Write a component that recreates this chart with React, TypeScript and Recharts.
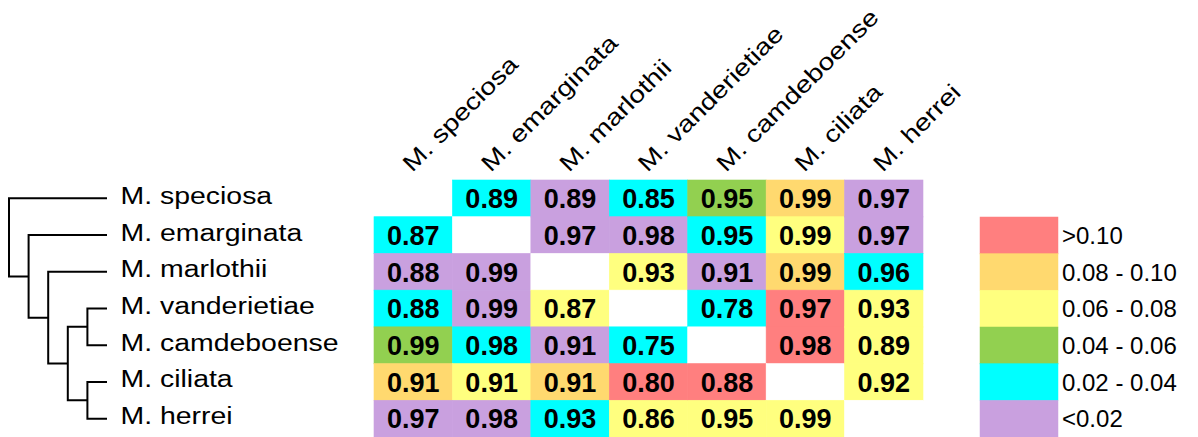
import React from 'react';
import { BarChart, Bar, XAxis, YAxis, ScatterChart, Scatter } from 'recharts';

const species = [
  'M. speciosa',
  'M. emarginata',
  'M. marlothii',
  'M. vanderietiae',
  'M. camdeboense',
  'M. ciliata',
  'M. herrei',
];

const legendLabels = ['>0.10', '0.08 - 0.10', '0.06 - 0.08', '0.04 - 0.06', '0.02 - 0.04', '<0.02'];
const legendColors = ['#FF7F7F', '#FFD96F', '#FFFF7F', '#92D050', '#00FFFF', '#C9A0DF'];

// Cell values per row (null = diagonal)
const speciosaValues = [null, 0.89, 0.89, 0.85, 0.95, 0.99, 0.97];
const emarginataValues = [0.87, null, 0.97, 0.98, 0.95, 0.99, 0.97];
const marlothiiValues = [0.88, 0.99, null, 0.93, 0.91, 0.99, 0.96];
const vanderietiaeValues = [0.88, 0.99, 0.87, null, 0.78, 0.97, 0.93];
const camdeboenseValues = [0.99, 0.98, 0.91, 0.75, null, 0.98, 0.89];
const ciliataValues = [0.91, 0.91, 0.91, 0.8, 0.88, null, 0.92];
const herreiValues = [0.97, 0.98, 0.93, 0.86, 0.95, 0.99, null];

// Cell class per row = index into legendLabels
const speciosaClasses = [null, 4, 5, 4, 3, 1, 5];
const emarginataClasses = [4, null, 5, 5, 4, 2, 5];
const marlothiiClasses = [5, 5, null, 2, 5, 1, 4];
const vanderietiaeClasses = [4, 5, 2, null, 4, 0, 2];
const camdeboenseClasses = [3, 4, 5, 4, null, 0, 2];
const ciliataClasses = [1, 2, 1, 0, 0, null, 2];
const herreiClasses = [5, 5, 4, 2, 2, 2, null];

// Dendrogram merges (in order), with depth of each merge node (0 = root)
const mergeChildren = [
  ['M. vanderietiae', 'M. camdeboense'],
  ['M. ciliata', 'M. herrei'],
  ['n0', 'n1'],
  ['M. marlothii', 'n2'],
  ['M. emarginata', 'n3'],
  ['M. speciosa', 'n4'],
];
const mergeDepths = [4, 4, 3, 2, 1, 0];
const leafDepth = 5;

const valueRows = [
  speciosaValues,
  emarginataValues,
  marlothiiValues,
  vanderietiaeValues,
  camdeboenseValues,
  ciliataValues,
  herreiValues,
];
const classRows = [
  speciosaClasses,
  emarginataClasses,
  marlothiiClasses,
  vanderietiaeClasses,
  camdeboenseClasses,
  ciliataClasses,
  herreiClasses,
];

const FONT = '"Liberation Sans", Arial, Helvetica, sans-serif';
const W = 1198;
const H = 437;
const STRETCH = 1.21;

const heatData = species.map((name, r) => {
  const row: any = { name, row: r };
  species.forEach((_, c) => {
    row[`c${c}`] = 1;
  });
  return row;
});

const legendData = legendLabels.map((label, i) => ({ label, v: 1, color: legendColors[i] }));

// build dendrogram segments
const nodePos: Record<string, { x: number; y: number }> = {};
species.forEach((s, i) => {
  nodePos[s] = { x: leafDepth, y: i };
});
const treeSegments: { x: number; y: number }[][] = [];
mergeChildren.forEach((pair, i) => {
  const a = nodePos[pair[0]];
  const b = nodePos[pair[1]];
  const d = mergeDepths[i];
  nodePos[`n${i}`] = { x: d, y: (a.y + b.y) / 2 };
  treeSegments.push([
    { x: a.x, y: a.y },
    { x: d, y: a.y },
    { x: d, y: b.y },
    { x: b.x, y: b.y },
  ]);
});

const makeCell = (c: number) => (props: any) => {
  const { x, y, width, height, payload } = props;
  const r = payload.row;
  const cls = classRows[r][c];
  const val = valueRows[r][c];
  const fill = cls == null ? '#ffffff' : legendColors[cls];
  return (
    <g>
      <rect x={x} y={y} width={width} height={height} fill={fill} stroke={fill} strokeWidth={0.6} />
      {val != null && (
        <text
          x={x + width / 2}
          y={y + height / 2 + 9.6}
          textAnchor="middle"
          fontFamily={FONT}
          fontWeight="bold"
          fontSize={27}
          fill="#000"
        >
          {val.toFixed(2)}
        </text>
      )}
    </g>
  );
};

const RowTick = (props: any) => {
  const { x, y, payload } = props;
  return (
    <text
      transform={`translate(${x - 253.5},${y + 5.5}) scale(${STRETCH},1)`}
      fontFamily={FONT}
      fontSize={23.5}
      fill="#000"
      textAnchor="start"
    >
      {payload.value}
    </text>
  );
};

const ColTick = (props: any) => {
  const { x, y, payload } = props;
  const idx = Math.floor(payload.value);
  return (
    <text
      transform={`translate(${x - 1},${y - 7}) rotate(-45) scale(${STRETCH},1)`}
      fontFamily={FONT}
      fontSize={23.5}
      fill="#000"
      textAnchor="start"
    >
      {species[idx]}
    </text>
  );
};

const LegendTick = (props: any) => {
  const { x, y, payload } = props;
  return (
    <text x={x + 4} y={y + 8.5} fontFamily={FONT} fontSize={24} fill="#000" textAnchor="start">
      {payload.value}
    </text>
  );
};

const legendShape = (props: any) => {
  const { x, y, width, height, payload } = props;
  return <rect x={x} y={y} width={width} height={height} fill={payload.color} stroke={payload.color} strokeWidth={0.5} />;
};

const layer: React.CSSProperties = { position: 'absolute', left: 0, top: 0 };

export default function App() {
  const colTicks = species.map((_, i) => i + 0.5);
  return (
    <div style={{ position: 'absolute', left: 0, top: 0, width: W, height: H, background: '#fff', overflow: 'hidden' }}>
      <div style={layer}>
        <ScatterChart width={W} height={H} margin={{ top: 180, right: W - 107, bottom: 0, left: 9 }}>
          <XAxis type="number" dataKey="x" domain={[0, 5]} hide />
          <YAxis type="number" dataKey="y" domain={[-0.5, 6.5]} reversed hide />
          {treeSegments.map((seg, i) => (
            <Scatter
              key={i}
              data={seg}
              fill="#000"
              line={{ stroke: '#000', strokeWidth: 2 }}
              lineType="joint"
              shape={() => <g />}
              isAnimationActive={false}
            />
          ))}
        </ScatterChart>
      </div>
      <div style={layer}>
        <BarChart
          width={W}
          height={H}
          layout="vertical"
          data={heatData}
          barCategoryGap={0}
          margin={{ top: 179, right: W - 923, bottom: 0, left: 373 }}
        >
          <XAxis
            type="number"
            orientation="top"
            domain={[0, 7]}
            ticks={colTicks}
            interval={0}
            height={1}
            tickSize={0}
            tickMargin={0}
            axisLine={false}
            tickLine={false}
            tick={(p: any) => <ColTick {...p} />}
          />
          <YAxis
            type="category"
            dataKey="name"
            width={1}
            tickSize={0}
            tickMargin={0}
            axisLine={false}
            tickLine={false}
            interval={0}
            tick={(p: any) => <RowTick {...p} />}
          />
          {species.map((_, c) => (
            <Bar key={c} dataKey={`c${c}`} stackId="s" shape={makeCell(c)} isAnimationActive={false} />
          ))}
        </BarChart>
      </div>
      <div style={layer}>
        <BarChart
          width={W}
          height={H}
          layout="vertical"
          data={legendData}
          barCategoryGap={0}
          margin={{ top: 217, right: 0, bottom: 0, left: 980 }}
        >
          <XAxis type="number" domain={[0, 1]} hide />
          <YAxis
            type="category"
            dataKey="label"
            orientation="right"
            width={W - 1058}
            tickSize={0}
            tickMargin={0}
            axisLine={false}
            tickLine={false}
            interval={0}
            tick={(p: any) => <LegendTick {...p} />}
          />
          <Bar dataKey="v" shape={legendShape} isAnimationActive={false} />
        </BarChart>
      </div>
    </div>
  );
}
